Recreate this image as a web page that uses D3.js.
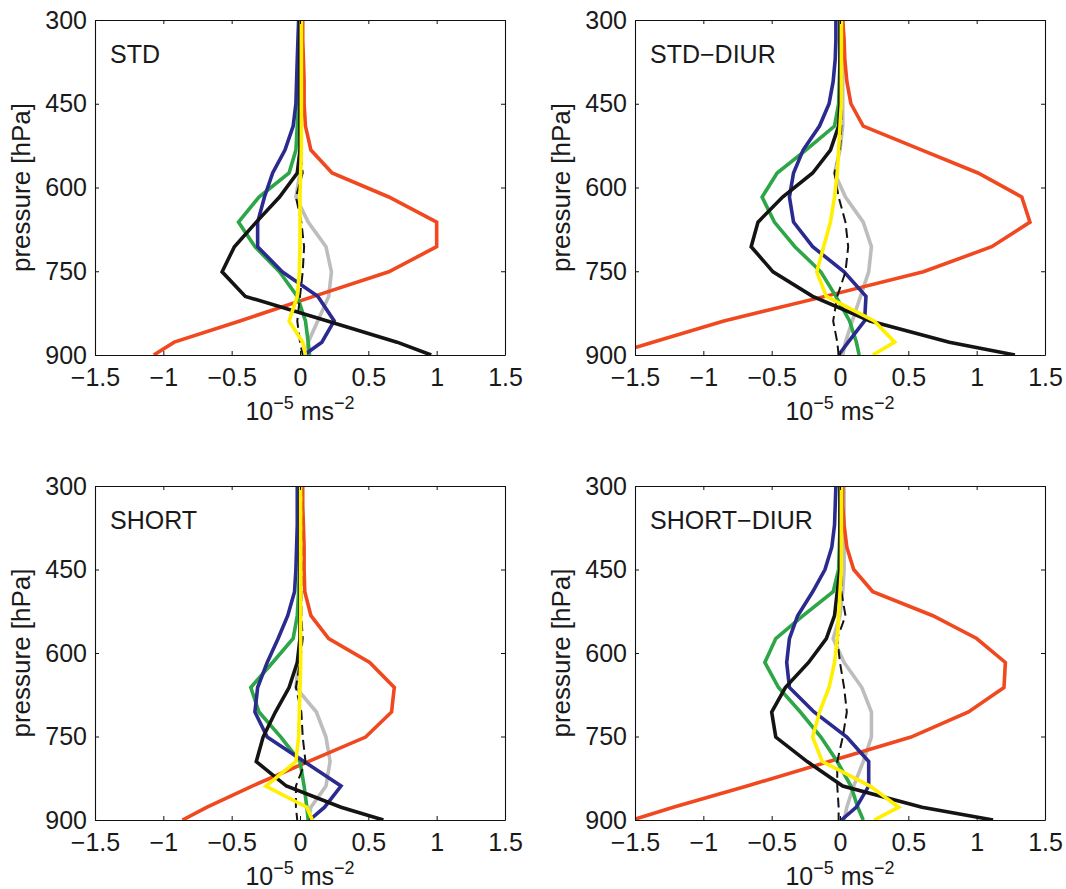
<!DOCTYPE html>
<html><head><meta charset="utf-8">
<script src="https://cdn.jsdelivr.net/npm/d3@7"></script>
<style>
body{margin:0;background:#fff}
svg text{font-family:"Liberation Sans",Arial,Helvetica,sans-serif;fill:#1a1a1a}
</style></head>
<body><svg id="chart" width="1066" height="889"></svg>
<script>
// ---- data ----
const levels = [300,335,370,410,450,490,533,574,617,662,706,751,795,839,877,900];
const panelNames = ["STD","STD\u2212DIUR","SHORT","SHORT\u2212DIUR"];
const xTicks = [-1.5,-1,-0.5,0,0.5,1,1.5];
const xTickLabels = ["\u22121.5","\u22121","\u22120.5","0","0.5","1","1.5"];
const yTicks = [300,450,600,750,900];
const yTickLabels = ["300","450","600","750","900"];

// STD
const std_red    = [0.02,0.02,0.025,0.03,0.03,0.04,0.08,0.235,0.65,1.0,1.0,0.65,0.10,-0.44,-0.92,-1.07];
const std_green  = [0,0,0,-0.005,-0.01,-0.02,-0.03,-0.08,-0.3,-0.45,-0.33,-0.15,-0.02,0.04,0.06,0.07];
const std_blue   = [-0.01,-0.015,-0.02,-0.025,-0.03,-0.05,-0.11,-0.2,-0.26,-0.31,-0.31,-0.13,0.13,0.25,0.16,0.03];
const std_black  = [0,0,0,0,0,0,0,-0.02,-0.15,-0.32,-0.48,-0.57,-0.40,0.2,0.71,0.96];
const std_gray   = [0,0,0,0,0,0,0,0,-0.03,0.06,0.19,0.23,0.21,0.13,0.06,0.04];
const std_dashed = [0,0,0,0,0,0,0,0.02,-0.03,0.01,0.03,0.02,0,-0.02,0,0.02];
const std_yellow = [0.01,0.01,0.01,0.01,0.01,0.01,0.01,0.005,0,0,0,-0.005,-0.02,-0.08,0.02,0.04];
// STD-DIUR
const stdd_red    = [0.02,0.03,0.035,0.05,0.08,0.17,0.60,1.01,1.33,1.39,1.11,0.61,-0.11,-0.85,-1.37,-1.68];
const stdd_green  = [0,0,0,-0.005,-0.01,-0.04,-0.25,-0.46,-0.57,-0.48,-0.33,-0.14,-0.03,0.07,0.12,0.14];
const stdd_blue   = [-0.03,-0.03,-0.035,-0.05,-0.08,-0.15,-0.27,-0.34,-0.37,-0.34,-0.2,0.03,0.19,0.18,0.06,-0.01];
const stdd_black  = [0,0,0,0,0,-0.01,-0.07,-0.2,-0.42,-0.60,-0.65,-0.49,-0.2,0.22,0.8,1.28];
const stdd_gray   = [0.02,0.02,0.02,0.02,0.02,0.02,0,-0.04,0.04,0.17,0.23,0.21,0.15,0.09,0.04,0.02];
const stdd_dashed = [0.01,0.01,0.01,0.01,0.01,0.01,0,-0.04,-0.01,0.04,0.06,0.04,-0.02,-0.05,-0.02,-0.01];
const stdd_yellow = [0.01,0.01,0.01,0.01,0.01,0,-0.01,-0.02,-0.04,-0.07,-0.12,-0.17,-0.1,0.25,0.40,0.24];
// SHORT
const short_red    = [0.02,0.02,0.025,0.03,0.03,0.035,0.08,0.21,0.51,0.69,0.67,0.48,0.06,-0.35,-0.68,-0.86];
const short_green  = [0,0,0,0,-0.005,-0.01,-0.02,-0.05,-0.2,-0.36,-0.3,-0.14,0,0.03,0.05,0.06];
const short_blue   = [-0.02,-0.02,-0.02,-0.025,-0.03,-0.04,-0.09,-0.16,-0.24,-0.31,-0.33,-0.24,0.03,0.30,0.18,0.07];
const short_black  = [0,0,0,0,0,0,0,0,-0.02,-0.08,-0.18,-0.27,-0.32,-0.1,0.3,0.61];
const short_gray   = [0,0,0,0,0,0,0,0,-0.01,-0.03,0.12,0.19,0.22,0.19,0.08,0.06];
const short_dashed = [0.01,0.01,0.01,0.01,0.01,0.01,0.01,0.02,0,-0.03,0.01,0.02,0.04,-0.03,-0.03,-0.02];
const short_yellow = [0.005,0.005,0.005,0.005,0.005,0.005,0.005,0.005,0.005,0,-0.005,-0.01,-0.03,-0.25,0.05,0.09];
// SHORT-DIUR
const shortd_red    = [0.02,0.02,0.03,0.05,0.1,0.24,0.68,1.0,1.21,1.2,0.94,0.52,-0.08,-0.68,-1.22,-1.52];
const shortd_green  = [0,0,0,-0.005,-0.01,-0.05,-0.27,-0.47,-0.55,-0.45,-0.29,-0.14,-0.02,0.08,0.13,0.17];
const shortd_blue   = [-0.03,-0.035,-0.04,-0.06,-0.11,-0.2,-0.31,-0.37,-0.39,-0.37,-0.19,0.05,0.21,0.21,0.12,0.01];
const shortd_black  = [0,0,0,0,0,-0.02,-0.04,-0.1,-0.23,-0.4,-0.5,-0.47,-0.24,0.02,0.6,1.12];
const shortd_gray   = [0.03,0.03,0.03,0.03,0.03,0.02,0,-0.05,0.03,0.16,0.23,0.23,0.17,0.1,0.05,0.03];
const shortd_dashed = [0.01,0.01,0.01,0.01,0.01,0.01,0.04,-0.02,0,0.03,0.05,0.02,-0.02,-0.02,-0.01,-0.01];
const shortd_yellow = [0.01,0.01,0.01,0.01,0.01,0,-0.01,-0.02,-0.04,-0.08,-0.15,-0.2,-0.13,0.22,0.43,0.25];

const panelSeries = [
  [std_gray,std_red,std_green,std_blue,std_black,std_dashed,std_yellow],
  [stdd_gray,stdd_red,stdd_green,stdd_blue,stdd_black,stdd_dashed,stdd_yellow],
  [short_gray,short_red,short_green,short_blue,short_black,short_dashed,short_yellow],
  [shortd_gray,shortd_red,shortd_green,shortd_blue,shortd_black,shortd_dashed,shortd_yellow]
];

// ---- styles / layout ----
const seriesStyle = [
  {color:"#bdbdbd", w:3.6, dash:null},
  {color:"#f0481f", w:3.6, dash:null},
  {color:"#2ca646", w:3.6, dash:null},
  {color:"#2b2b8f", w:3.6, dash:null},
  {color:"#141414", w:3.6, dash:null},
  {color:"#141414", w:2.0, dash:"10,5"},
  {color:"#fff000", w:3.6, dash:null}
];
const layout = [
  {x0:95,  x1:505,  y0:20,  y1:355},
  {x0:635, x1:1045, y0:20,  y1:355},
  {x0:95,  x1:505,  y0:486, y1:820},
  {x0:635, x1:1045, y0:486, y1:820}
];

const svg = d3.select("#chart");
const defs = svg.append("defs");

layout.forEach((L, pi) => {
  const x = d3.scaleLinear().domain([-1.5,1.5]).range([L.x0, L.x1]);
  const y = d3.scaleLinear().domain([300,900]).range([L.y0, L.y1]);
  const g = svg.append("g");

  defs.append("clipPath").attr("id","clip"+pi)
    .append("rect").attr("x",L.x0).attr("y",L.y0)
    .attr("width",L.x1-L.x0).attr("height",L.y1-L.y0);

  const line = d3.line().x(d => x(d[0])).y(d => y(d[1]));
  const plot = g.append("g").attr("clip-path","url(#clip"+pi+")");
  panelSeries[pi].forEach((vals, si) => {
    const st = seriesStyle[si];
    plot.append("path")
      .attr("d", line(vals.map((v,i) => [v, levels[i]])))
      .attr("fill","none")
      .attr("stroke", st.color)
      .attr("stroke-width", st.w)
      .attr("stroke-linejoin","miter")
      .attr("stroke-dasharray", st.dash);
  });

  const styleAxis = sel => {
    sel.attr("font-family",null).attr("font-size",null);
    sel.select(".domain").attr("stroke","#111").attr("stroke-width",1.1);
    sel.selectAll(".tick line").attr("stroke","#111").attr("stroke-width",1);
    sel.selectAll("text").style("font-size","25px").attr("fill","#1a1a1a");
  };

  g.append("g").attr("transform",`translate(0,${L.y1})`)
    .call(d3.axisBottom(x).tickValues(xTicks).tickFormat((d,i)=>xTickLabels[i])
      .tickSizeInner(-4).tickSizeOuter(0).tickPadding(13))
    .call(styleAxis);
  g.append("g").attr("transform",`translate(0,${L.y0})`)
    .call(d3.axisTop(x).tickValues(xTicks).tickFormat("")
      .tickSizeInner(-4).tickSizeOuter(0))
    .call(styleAxis);
  g.append("g").attr("transform",`translate(${L.x0},0)`)
    .call(d3.axisLeft(y).tickValues(yTicks).tickFormat((d,i)=>yTickLabels[i])
      .tickSizeInner(-4).tickSizeOuter(0).tickPadding(8))
    .call(styleAxis);
  g.append("g").attr("transform",`translate(${L.x1},0)`)
    .call(d3.axisRight(y).tickValues(yTicks).tickFormat("")
      .tickSizeInner(-4).tickSizeOuter(0))
    .call(styleAxis);

  // panel name
  g.append("text").attr("x", L.x0 + 15).attr("y", L.y0 + 43)
    .style("font-size","25px").text(panelNames[pi]);

  // y label
  g.append("text")
    .attr("transform", `translate(${L.x0 - 65},${(L.y0+L.y1)/2}) rotate(-90)`)
    .attr("text-anchor","middle")
    .style("font-size","26px")
    .text("pressure [hPa]");

  // x label
  const xl = g.append("text")
    .attr("x", (L.x0+L.x1)/2).attr("y", L.y1 + 65)
    .attr("text-anchor","middle")
    .style("font-size","25px");
  xl.append("tspan").text("10");
  xl.append("tspan").attr("dy",-11).style("font-size","18px").text("\u22125");
  xl.append("tspan").attr("dy",11).text(" ms");
  xl.append("tspan").attr("dy",-11).style("font-size","18px").text("\u22122");
});
</script></body></html>
